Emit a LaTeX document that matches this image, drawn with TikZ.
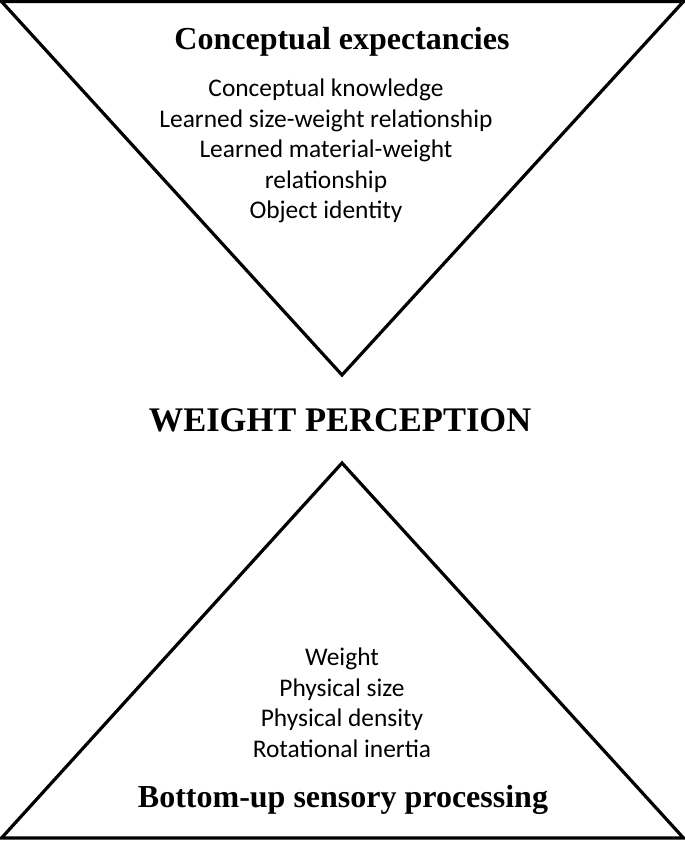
\documentclass[tikz,border=0pt]{standalone}
\usepackage{fontspec}
\setmainfont{Liberation Serif}
\newfontfamily\bodyfont{Carlito}
\begin{document}
\begin{tikzpicture}[x=1pt,y=-1pt,
  tri/.style={draw=black,line width=3.2pt,line join=miter},
  head/.style={font=\bfseries\fontsize{32}{36}\selectfont},
  body/.style={font=\bodyfont\fontsize{25.4}{30.5}\selectfont,align=center}]
\useasboundingbox (0,0) rectangle (685,841);
\coordinate (tl) at (1.5,1.5);
\coordinate (tr) at (683.5,1.5);
\coordinate (ta) at (342,375);
\coordinate (ba) at (342,463);
\coordinate (bl) at (1.5,838);
\coordinate (br) at (683.5,838);
\draw[tri] (tl) -- (tr) -- (ta) -- cycle;
\draw[tri] (ba) -- (br) -- (bl) -- cycle;
\node[head] (h1) at (342,42) {Conceptual expectancies};
\node[body] (t1) at (326,151) {Conceptual knowledge\\Learned size-weight relationship\\Learned material-weight\\relationship\\Object identity};
\node[font=\bfseries\fontsize{34.5}{40}\selectfont] (wp) at (340,420) {WEIGHT PERCEPTION};
\node[body] (t2) at (342,703) {Weight\\Physical size\\Physical density\\Rotational inertia};
\node[head] (h2) at (343,800) {Bottom-up sensory processing};
\end{tikzpicture}
\end{document}
